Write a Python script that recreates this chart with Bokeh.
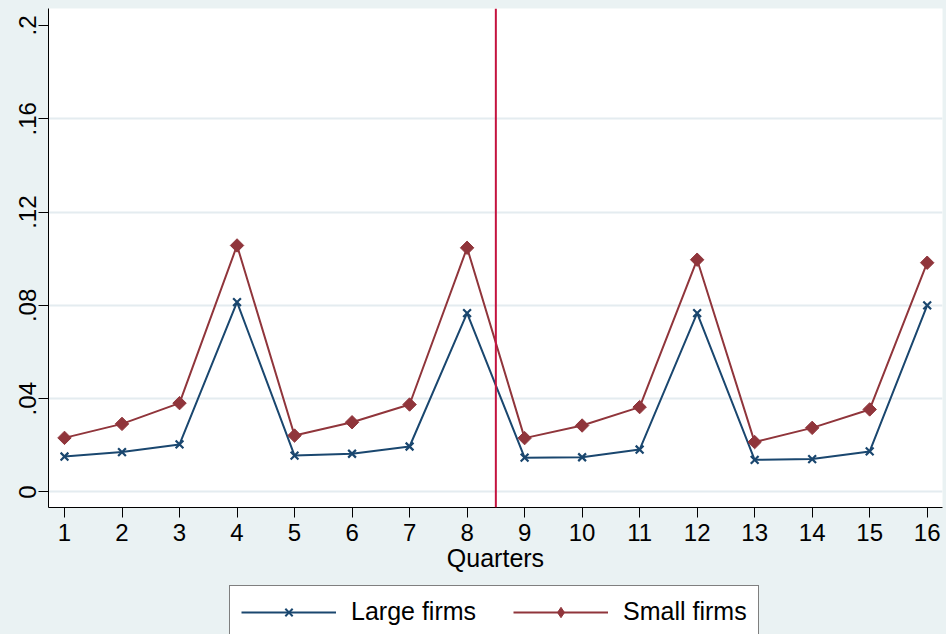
from bokeh.plotting import figure
from bokeh.layouts import column
from bokeh.models import FixedTicker, Legend, LegendItem, Span, Range1d
from bokeh.embed import file_html
from bokeh.resources import INLINE
import numpy as np

# Quarterly share, large vs small firms
quarters = list(range(1, 17))
large_firms = [0.0152, 0.0171, 0.0204, 0.0814, 0.0156, 0.0164, 0.0195, 0.0767,
               0.0147, 0.0149, 0.0182, 0.0767, 0.0138, 0.0141, 0.0174, 0.0800]
small_firms = [0.0232, 0.0292, 0.0381, 0.1057, 0.0242, 0.0299, 0.0375, 0.1047,
               0.0231, 0.0285, 0.0364, 0.0996, 0.0214, 0.0275, 0.0354, 0.0983]
break_quarter = 8.5

y_ticks = [0, 0.04, 0.08, 0.12, 0.16, 0.2]
y_tick_labels = ["0", ".04", ".08", ".12", ".16", ".2"]

NAVY = "#1A476F"
MAROON = "#90353B"
BG = "#EAF2F3"
FONT = "Liberation Sans"

p = figure(width=946, height=580, output_backend="svg", toolbar_location=None,
           x_range=Range1d(0.722, 16.266), y_range=Range1d(-0.00665, 0.2073),
           min_border_left=48, min_border_right=4, min_border_top=8,
           min_border_bottom=73)
p.background_fill_color = "white"
p.border_fill_color = BG
p.outline_line_color = None

# grid: horizontal lines only, not at the top tick
p.xgrid.grid_line_color = None
p.ygrid.ticker = FixedTicker(ticks=y_ticks[:-1])
p.ygrid.grid_line_color = "#E4ECF0"
p.ygrid.grid_line_width = 2

# series
p.line(quarters, large_firms, line_color=NAVY, line_width=2)
p.scatter(quarters, large_firms, marker="x", size=11, line_color=NAVY,
          line_width=2.2)
p.line(quarters, small_firms, line_color=MAROON, line_width=2)
p.scatter(quarters, small_firms, marker="square", angle=np.pi / 4,
          size=9.5, fill_color=MAROON, line_color=MAROON)

p.add_layout(Span(location=break_quarter, dimension="height",
                  line_color="#C4133F", line_width=2))

# x axis
xa = p.xaxis[0]
xa.ticker = FixedTicker(ticks=quarters)
xa.axis_label = "Quarters"
xa.axis_label_text_font = FONT
xa.axis_label_text_font_size = "25px"
xa.axis_label_text_font_style = "normal"
xa.axis_label_text_color = "black"
xa.axis_label_standoff = 0
xa.major_label_text_font = FONT
xa.major_label_text_font_size = "24px"
xa.major_label_text_color = "black"
xa.major_label_standoff = 6
xa.major_tick_out = 10
xa.major_tick_in = 0
xa.minor_tick_line_color = None
xa.axis_line_color = "black"
xa.major_tick_line_color = "black"

# y axis
ya = p.yaxis[0]
ya.ticker = FixedTicker(ticks=y_ticks)
ya.major_label_overrides = {t: s for t, s in zip(y_ticks, y_tick_labels)}
ya.major_label_orientation = "vertical"
ya.major_label_text_font = FONT
ya.major_label_text_font_size = "24px"
ya.major_label_text_color = "black"
ya.major_label_standoff = 2
ya.major_tick_out = 10
ya.major_tick_in = 0
ya.minor_tick_line_color = None
ya.axis_line_color = "black"
ya.major_tick_line_color = "black"

# legend strip under the chart (keys only, series hidden)
lg = figure(width=946, height=54, output_backend="svg", toolbar_location=None,
            x_axis_type=None, y_axis_type=None,
            x_range=Range1d(0, 1), y_range=Range1d(0, 1),
            min_border_left=0, min_border_right=0, min_border_top=0,
            min_border_bottom=0)
lg.background_fill_color = None
lg.border_fill_color = BG
lg.outline_line_color = None
lg.xgrid.grid_line_color = None
lg.ygrid.grid_line_color = None

k_line_l = lg.line(quarters, large_firms, line_color=NAVY, line_width=2,
                   visible=False)
k_mark_l = lg.scatter(quarters, large_firms, marker="x", size=11,
                      line_color=NAVY, line_width=2, visible=False)
k_line_s = lg.line(quarters, small_firms, line_color=MAROON, line_width=2,
                   visible=False)
k_mark_s = lg.scatter(quarters, small_firms, marker="diamond", size=13,
                      fill_color=MAROON, line_color=MAROON, visible=False)

legend = Legend(items=[LegendItem(label="Large firms", renderers=[k_line_l, k_mark_l]),
                       LegendItem(label="Small firms", renderers=[k_line_s, k_mark_s])],
                location=(181, -4), orientation="horizontal", margin=0,
                glyph_width=95, glyph_height=26, label_standoff=15, spacing=37,
                padding=11, label_text_font=FONT, label_text_font_size="25px",
                label_text_color="black", border_line_color="black",
                border_line_width=1, background_fill_color="white",
                background_fill_alpha=1.0, inactive_fill_alpha=0.0)
lg.add_layout(legend, "center")

layout = column(p, lg, spacing=0, styles={"background-color": BG})
open("out.html", "w").write(file_html(layout, INLINE))
